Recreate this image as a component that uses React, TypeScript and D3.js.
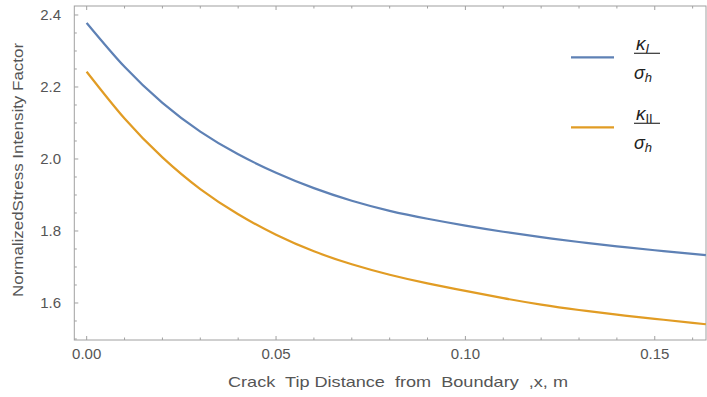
import React, { useEffect, useRef } from "react";
import * as d3 from "d3";

// crack tip distance, m
const distance = [0, 0.01, 0.02, 0.03, 0.04, 0.05, 0.06, 0.07, 0.08, 0.09, 0.1, 0.11, 0.12, 0.13, 0.14, 0.15, 0.16, 0.1635];
// K_I / sigma_h
const modeI = [2.378, 2.256, 2.156, 2.076, 2.013, 1.962, 1.919, 1.884, 1.856, 1.834, 1.815, 1.798, 1.783, 1.7695, 1.7575, 1.7465, 1.7365, 1.733];
// K_II / sigma_h
const modeII = [2.2425, 2.1125, 2.0045, 1.9165, 1.8465, 1.7895, 1.7435, 1.7075, 1.6785, 1.6545, 1.6335, 1.6135, 1.5955, 1.5805, 1.5675, 1.556, 1.545, 1.541];

const xTicks = [0, 0.05, 0.1, 0.15];
const yTicks = [1.6, 1.8, 2.0, 2.2, 2.4];

const App = () => {
  const ref = useRef<SVGSVGElement>(null);

  useEffect(() => {
    draw();
  });

  const draw = () => {
    const svg = d3.select(ref.current);
    svg.selectAll("*").remove();

    const left = 74.3;
    const right = 706;
    const top = 6;
    const bottom = 340;

    const xScale = d3.scaleLinear().domain([-0.00327, 0.16353]).range([left, right]);
    const yScale = d3.scaleLinear().domain([1.4972, 2.425]).range([bottom, top]);

    const frameColor = "#a0a0a0";
    const textColor = "#555555";
    const font = "'Liberation Sans', Arial, sans-serif";

    // frame
    svg
      .append("rect")
      .attr("x", left)
      .attr("y", top)
      .attr("width", right - left)
      .attr("height", bottom - top)
      .attr("fill", "none")
      .attr("stroke", frameColor)
      .attr("stroke-width", 1);

    // x ticks (bottom + top, pointing inward)
    const xMinor = d3.range(0, 0.165, 0.01);
    xMinor.forEach((v, i) => {
      const major = i % 5 === 0;
      const len = major ? 4 : 2.5;
      const x = xScale(v);
      svg.append("line").attr("x1", x).attr("x2", x).attr("y1", bottom).attr("y2", bottom - len).attr("stroke", frameColor);
      svg.append("line").attr("x1", x).attr("x2", x).attr("y1", top).attr("y2", top + len).attr("stroke", frameColor);
    });

    // y ticks
    const yMinor = d3.range(1.5, 2.426, 0.05);
    yMinor.forEach((v) => {
      const major = Math.abs(v * 5 - Math.round(v * 5)) < 1e-6;
      const len = major ? 4 : 2.5;
      const y = yScale(v);
      svg.append("line").attr("x1", left).attr("x2", left + len).attr("y1", y).attr("y2", y).attr("stroke", frameColor);
    });

    svg
      .selectAll(".xlab")
      .data(xTicks)
      .enter()
      .append("text")
      .attr("x", (d) => xScale(d))
      .attr("y", 359)
      .attr("text-anchor", "middle")
      .attr("font-family", font)
      .attr("font-size", 15)
      .attr("fill", textColor)
      .text((d) => d3.format(".2f")(d));

    svg
      .selectAll(".ylab")
      .data(yTicks)
      .enter()
      .append("text")
      .attr("x", 61)
      .attr("y", (d) => yScale(d) + 5)
      .attr("text-anchor", "end")
      .attr("font-family", font)
      .attr("font-size", 15)
      .attr("fill", textColor)
      .text((d) => d3.format(".1f")(d));

    // axis titles
    svg
      .append("text")
      .attr("x", 398)
      .attr("y", 387)
      .attr("text-anchor", "middle")
      .attr("font-family", font)
      .attr("font-size", 15)
      .attr("fill", textColor)
      .attr("xml:space", "preserve")
      .attr("textLength", 340)
      .attr("lengthAdjust", "spacingAndGlyphs")
      .text("Crack  Tip Distance  from  Boundary  ,x, m");

    svg
      .append("text")
      .attr("transform", "translate(23, 170) rotate(-90)")
      .attr("text-anchor", "middle")
      .attr("font-family", font)
      .attr("font-size", 15)
      .attr("fill", textColor)
      .attr("textLength", 254)
      .attr("lengthAdjust", "spacingAndGlyphs")
      .text("NormalizedStress Intensity Factor");

    const series = [
      { values: modeI, color: "#5e81b5", sub: "I", ly: 57.3 },
      { values: modeII, color: "#e19c24", sub: "II", ly: 127.3 },
    ];

    const line = d3
      .line<number>()
      .x((d, i) => xScale(distance[i]))
      .y((d) => yScale(d))
      .curve(d3.curveNatural);

    series.forEach((s) => {
      svg
        .append("path")
        .datum(s.values)
        .attr("fill", "none")
        .attr("stroke", s.color)
        .attr("stroke-width", 2.2)
        .attr("d", line);

      // legend
      svg.append("line").attr("x1", 571).attr("x2", 614).attr("y1", s.ly).attr("y2", s.ly).attr("stroke", s.color).attr("stroke-width", 2.2);
      const barY = s.ly - 4;
      svg.append("line").attr("x1", 634).attr("x2", 660).attr("y1", barY).attr("y2", barY).attr("stroke", "#333").attr("stroke-width", 1.2);
      const num = svg
        .append("text")
        .attr("x", 636)
        .attr("y", barY - 3)
        .attr("font-family", font)
        .attr("font-size", 19)
        .attr("fill", "#222");
      num.append("tspan").attr("font-style", "italic").text("κ");
      num
        .append("tspan")
        .attr("font-size", 13)
        .attr("dy", 3)
        .attr("font-style", s.sub === "I" ? "italic" : "normal")
        .text(s.sub);
      const den = svg
        .append("text")
        .attr("x", 634)
        .attr("y", barY + 26)
        .attr("font-family", font)
        .attr("font-size", 18)
        .attr("fill", "#222");
      den.append("tspan").attr("font-style", "italic").text("σ");
      den.append("tspan").attr("font-size", 13).attr("dy", 3).attr("font-style", "italic").text("h");
    });
  };

  return (
    <div style={{ position: "absolute", left: 0, top: 0, width: 707, height: 397, background: "#fff" }}>
      <svg ref={ref} width={707} height={397}></svg>
    </div>
  );
};

export default App;
